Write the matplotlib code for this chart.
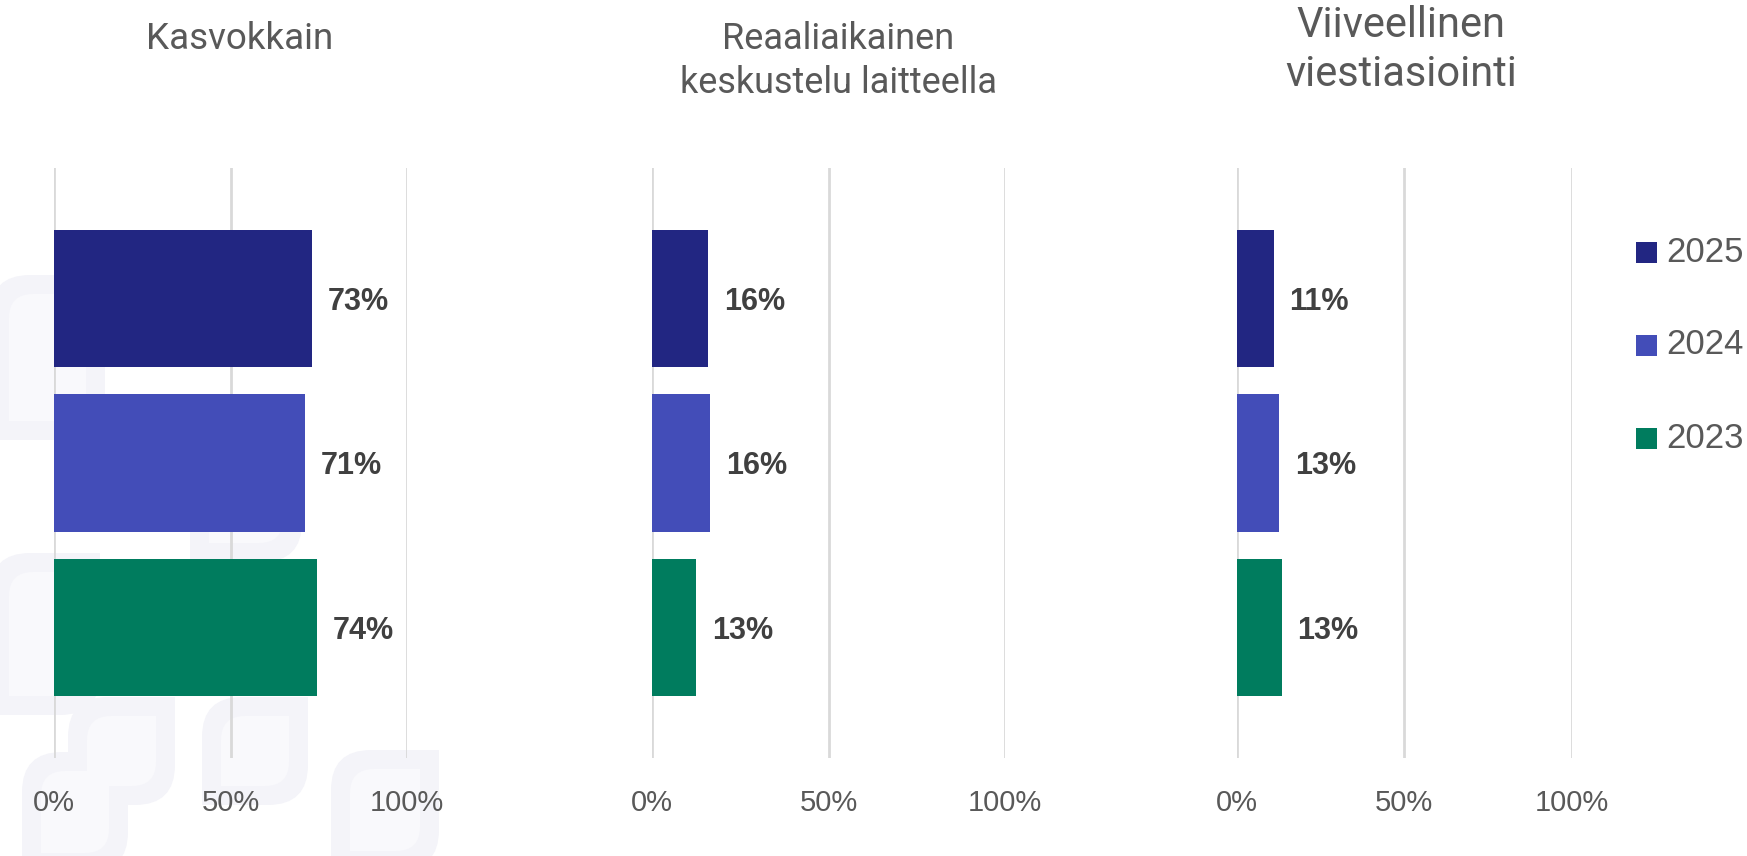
import matplotlib
matplotlib.use("Agg")
import matplotlib.pyplot as plt
from matplotlib.patches import Rectangle, PathPatch
from matplotlib.path import Path
from matplotlib.transforms import Affine2D

W, H = 1747, 856
DPI = 100

# ---------------- data ----------------
panel_titles = ["Kasvokkain", "Reaaliaikainen\nkeskustelu laitteella", "Viiveellinen\nviestiasiointi"]
years = ["2025", "2024", "2023"]
colors = ["#222682", "#434DB8", "#007C5E"]
vals_kasvokkain = [73.0, 71.1, 74.4]
vals_reaali = [15.9, 16.5, 12.6]
vals_viive = [11.0, 12.6, 13.4]
panel_values = [vals_kasvokkain, vals_reaali, vals_viive]
xticks = [0, 50, 100]
xtick_labels = ["0%", "50%", "100%"]

sans = "Liberation Sans"

fig = plt.figure(figsize=(W / DPI, H / DPI), dpi=DPI)
fig.patch.set_facecolor("white")

def px(x, y):
    return x / W, 1 - y / H

PXT = Affine2D().scale(1 / W, -1 / H).translate(0, 1) + fig.transFigure

def leaf(x0, y0, w, h, r):
    x1, y1 = x0 + w, y0 + h
    verts = [(x0, y0 + r), (x0, y0), (x0 + r, y0),
             (x1, y0), (x1, y1 - r), (x1, y1), (x1 - r, y1),
             (x0, y1), (x0, y0 + r)]
    codes = [Path.MOVETO, Path.CURVE3, Path.CURVE3,
             Path.LINETO, Path.LINETO, Path.CURVE3, Path.CURVE3,
             Path.LINETO, Path.CLOSEPOLY]
    return Path(verts, codes)

# decorative faint leaf-shaped watermark squares
deco = [(-10, 275, 115, 165), (-10, 553, 110, 162), (190, 440, 112, 122),
        (68, 697, 107, 108), (202, 697, 106, 108), (22, 752, 106, 120), (331, 750, 108, 120)]
for (x, y, w, h) in deco:
    fig.patches.append(PathPatch(leaf(x, y, w, h, 40), transform=PXT,
                                 facecolor="#F4F4F9", edgecolor="none", zorder=-5))
    t = 19
    fig.patches.append(PathPatch(leaf(x + t, y + t, w - 2 * t, h - 2 * t, 24), transform=PXT,
                                 facecolor="#F9F9FC", edgecolor="none", zorder=-4))

GRID_TOP, GRID_BOT = 168, 758
axes_px = [(53.7, 353.6), (651.7, 353.6), (1236.7, 335.0)]
title_specs = [(240, 39, 26.5, 1.2), (838, 61, 26, 1.3), (1401, 50, 30, 1.28)]

for i, (x0, wpx) in enumerate(axes_px):
    ax = fig.add_axes([x0 / W, 1 - GRID_BOT / H, wpx / W, (GRID_BOT - GRID_TOP) / H])
    ax.set_facecolor("none")
    vals = panel_values[i]
    ypos = list(range(len(years)))
    ax.barh(ypos, vals, height=0.836, color=colors, zorder=3)
    ax.set_xlim(0, 100)
    ax.set_ylim(2.795, -0.795)
    ax.set_xticks(xticks)
    ax.set_xticklabels(xtick_labels, fontsize=21, color="#595959", family=sans)
    ax.tick_params(axis="x", length=0, pad=22)
    ax.set_yticks([])
    for s in ax.spines.values():
        s.set_visible(False)
    for t in xticks:
        ax.axvline(t, color="#D9D9D9", linewidth=2, zorder=1)
    for yv, v in zip(ypos, vals):
        ax.annotate(f"{v:.0f}%", xy=(v, yv), xytext=(11.5, -2.5), textcoords="offset points",
                    ha="left", va="center", fontsize=22, fontweight="bold",
                    color="#404040", family=sans, annotation_clip=False)
    cx, cy, fs, ls = title_specs[i]
    fx, fy = px(cx, cy)
    fig.text(fx, fy, panel_titles[i], ha="center", va="center", fontsize=fs,
             color="#595959", family="Roboto", linespacing=ls)

# legend
leg_y = [252, 345, 438]
for yr, c, yc in zip(years, colors, leg_y):
    x0, y0 = px(1636, yc + 10.5)
    fig.patches.append(Rectangle((x0, y0), 21 / W, 21 / H, transform=fig.transFigure,
                                 facecolor=c, edgecolor="none"))
    tx, ty = px(1666, yc)
    fig.text(tx, ty, yr, ha="left", va="center", fontsize=25, color="#595959", family=sans)

fig.savefig("out.png", dpi=DPI, facecolor="white")
